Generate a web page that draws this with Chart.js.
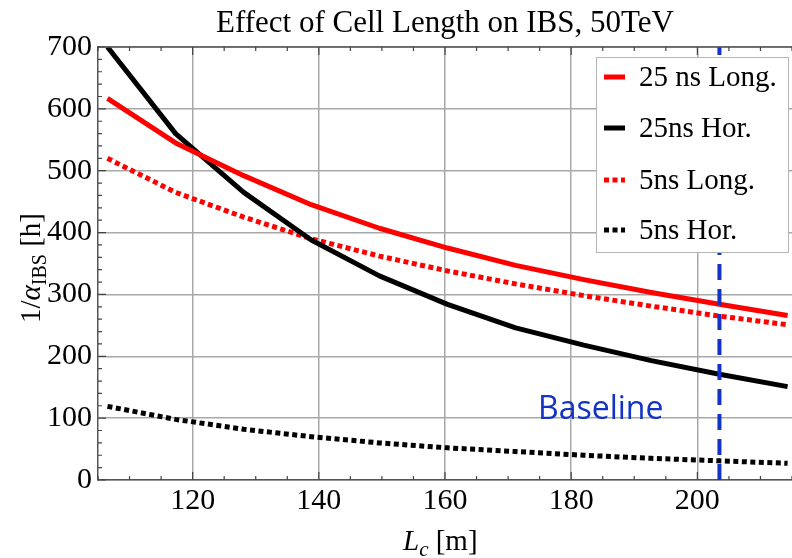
<!DOCTYPE html>
<html>
<head>
<meta charset="utf-8">
<script src="https://cdn.jsdelivr.net/npm/chart.js@4"></script>
<style>
  html, body { margin: 0; padding: 0; background: #fff; }
  canvas { display: block; }
</style>
</head>
<body>
<canvas id="chart" width="792" height="558"></canvas>
<script>
// ===== Data =====
const cellLength = [106.5, 117.3, 128.1, 138.8, 149.6, 160.4, 171.2, 182.0, 192.7, 203.5, 214.3];
const long25 = [617, 545, 492, 445, 407, 375, 347, 324, 303, 284, 266];
const hor25 = [700, 560, 465, 388, 330, 284, 246, 218, 193, 171, 151];
const long5 = [520, 465, 425, 390, 362, 338, 317, 298, 281, 265, 251];
const hor5 = [119, 98, 82, 70, 60, 52, 46, 40, 35, 31, 27];
const seriesNames = ["25 ns Long.", "25ns Hor.", "5ns Long.", "5ns Hor."];
const baselineX = 203.5;
const baselineY = [0, 700];
const baselineLabel = "Baseline";
const xTicks = [120, 140, 160, 180, 200];
const yTicks = [0, 100, 200, 300, 400, 500, 600, 700];
const titleText = "Effect of Cell Length on IBS, 50TeV";

const SERIF = '"Liberation Serif", "Times New Roman", serif';

const pts = ys => cellLength.map((x, i) => ({ x, y: ys[i] }));

// ===== Extra drawing: title, axis titles, minor ticks, legend, label =====
const decorations = {
  id: "decorations",
  afterDraw(chart) {
    const { ctx, chartArea: a, scales: { x, y } } = chart;
    ctx.save();

    // top frame line
    ctx.strokeStyle = "#555";
    ctx.lineWidth = 1.5;
    ctx.beginPath();
    ctx.moveTo(a.left, a.top);
    ctx.lineTo(a.right, a.top);
    ctx.stroke();

    // inward ticks (major + minor)
    ctx.strokeStyle = "#444";
    ctx.lineWidth = 1.2;
    ctx.beginPath();
    for (let v = 105; v <= 215; v += 5) {
      const px = x.getPixelForValue(v);
      const len = v % 20 === 0 ? 8 : 4;
      ctx.moveTo(px, a.bottom); ctx.lineTo(px, a.bottom - len);
      ctx.moveTo(px, a.top); ctx.lineTo(px, a.top + len);
    }
    for (let v = 0; v <= 700; v += 20) {
      const py = y.getPixelForValue(v);
      const len = v % 100 === 0 ? 8 : 4;
      ctx.moveTo(a.left, py); ctx.lineTo(a.left + len, py);
    }
    ctx.stroke();

    // title
    ctx.fillStyle = "#000";
    ctx.font = "31px " + SERIF;
    ctx.textAlign = "center";
    ctx.textBaseline = "alphabetic";
    ctx.fillText(titleText, (a.left + a.right) / 2, 32);

    // x axis title: L_c [m]
    ctx.textAlign = "left";
    let cx = 403;
    ctx.font = "italic 29px " + SERIF;
    ctx.fillText("L", cx, 550); cx += ctx.measureText("L").width;
    ctx.font = "italic 21px " + SERIF;
    ctx.fillText("c", cx, 556); cx += ctx.measureText("c").width;
    ctx.font = "29px " + SERIF;
    ctx.fillText(" [m]", cx, 550);

    // y axis title: 1/α_IBS [h]
    ctx.save();
    ctx.translate(40, 323);
    ctx.rotate(-Math.PI / 2);
    let ty = 0;
    ctx.font = "29px " + SERIF;
    ctx.fillText("1/", ty, 0); ty += ctx.measureText("1/").width;
    ctx.font = "italic 29px " + SERIF;
    ctx.fillText("\u03B1", ty, 0); ty += ctx.measureText("\u03B1").width;
    ctx.font = "20px " + SERIF;
    ctx.fillText("IBS", ty, 6); ty += ctx.measureText("IBS").width;
    ctx.font = "29px " + SERIF;
    ctx.fillText(" [h]", ty, 0);
    ctx.restore();

    // baseline label
    ctx.fillStyle = "#1233c4";
    ctx.font = '32px "Open Sans", sans-serif';
    ctx.fillText(baselineLabel, 538, 419);

    // legend box
    const lx = 596, ly = 57, lw = 192, lh = 195;
    ctx.fillStyle = "#fff";
    ctx.fillRect(lx, ly, lw, lh);
    ctx.strokeStyle = "#b5b5b5";
    ctx.lineWidth = 1;
    ctx.strokeRect(lx + 0.5, ly + 0.5, lw, lh);
    const rows = [77, 128, 180, 230];
    chart.data.datasets.slice(1).forEach((ds, i) => {
      const cy = rows[i];
      ctx.strokeStyle = ds.borderColor;
      ctx.lineWidth = 5;
      ctx.setLineDash(ds.borderDash || []);
      ctx.beginPath();
      ctx.moveTo(604, cy); ctx.lineTo(625, cy);
      ctx.stroke();
      ctx.setLineDash([]);
      ctx.fillStyle = "#000";
      ctx.font = "29px " + SERIF;
      ctx.fillText(ds.label, 639, cy + 9);
    });

    ctx.restore();
  }
};

new Chart(document.getElementById("chart"), {
  type: "line",
  data: {
    datasets: [
      {
        label: baselineLabel,
        data: baselineY.map(v => ({ x: baselineX, y: v })),
        borderColor: "#1233c4",
        borderWidth: 4,
        borderDash: [16, 9],
        borderCapStyle: "butt",
        pointRadius: 0
      },
      { label: seriesNames[0], data: pts(long25), borderColor: "#ff0000", borderWidth: 5, pointRadius: 0 },
      { label: seriesNames[1], data: pts(hor25), borderColor: "#000000", borderWidth: 5, pointRadius: 0 },
      { label: seriesNames[2], data: pts(long5), borderColor: "#ff0000", borderWidth: 5, borderDash: [5, 3.5], pointRadius: 0 },
      { label: seriesNames[3], data: pts(hor5), borderColor: "#000000", borderWidth: 5, borderDash: [5, 3.5], pointRadius: 0 }
    ]
  },
  options: {
    responsive: false,
    animation: false,
    events: [],
    layout: { padding: { top: 47, right: 0, left: 0, bottom: 0 } },
    plugins: { legend: { display: false }, title: { display: false }, tooltip: { enabled: false } },
    elements: { line: { tension: 0, borderJoinStyle: "round" } },
    scales: {
      x: {
        type: "linear",
        min: 105,
        max: 215,
        afterFit: s => { s.height = 78; },
        afterBuildTicks: s => { s.ticks = xTicks.map(v => ({ value: v })); },
        grid: { color: "#a8a8a8", lineWidth: 1.5, drawTicks: false },
        border: { display: true, color: "#555", width: 1.5 },
        ticks: { font: { family: SERIF, size: 30 }, color: "#000", padding: 3, maxRotation: 0 }
      },
      y: {
        type: "linear",
        min: 0,
        max: 700,
        afterFit: s => { s.width = 98; },
        afterBuildTicks: s => { s.ticks = yTicks.map(v => ({ value: v })); },
        grid: { color: "#a8a8a8", lineWidth: 1.5, drawTicks: false },
        border: { display: true, color: "#555", width: 1.5 },
        ticks: { font: { family: SERIF, size: 30 }, color: "#000", padding: 6 }
      }
    }
  },
  plugins: [decorations]
});
</script>
</body>
</html>
